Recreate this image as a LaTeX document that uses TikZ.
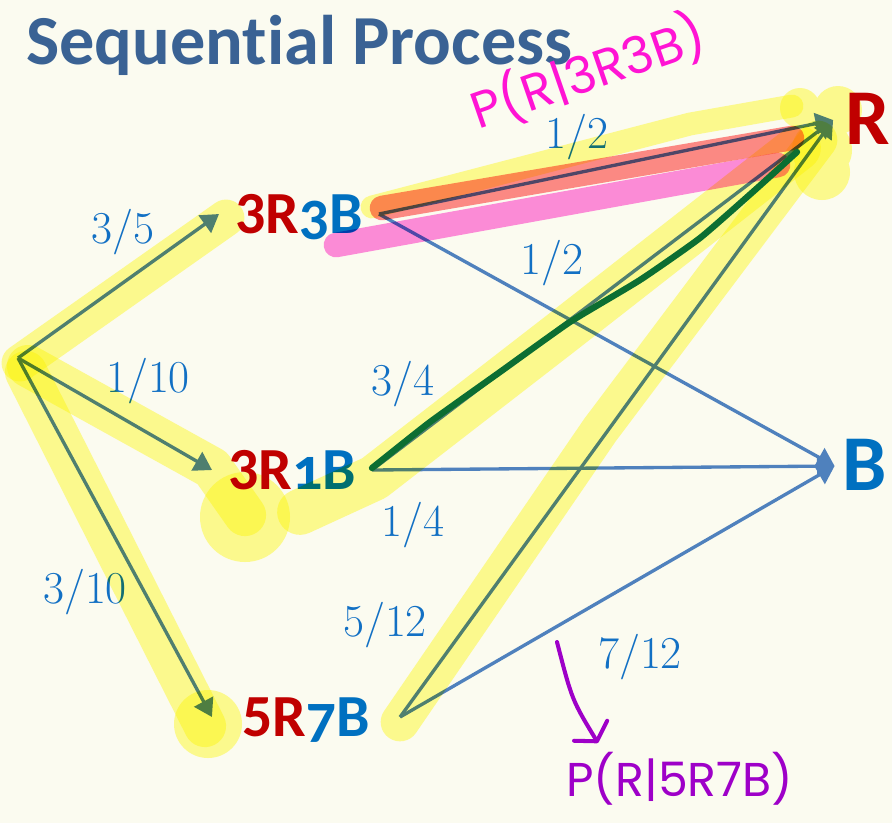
\documentclass[tikz,border=0pt]{standalone}
\usepackage{fontspec}
\usetikzlibrary{positioning,calc,arrows.meta}
\newfontfamily\headfont[Ligatures=NoCommon]{Carlito}
\newfontfamily\oldfont[Numbers=OldStyle]{Carlito}
\newfontfamily\handfont{Poppins}
\definecolor{PaperCream}{RGB}{251,251,240}
\definecolor{TitleBlue}{RGB}{58,98,148}
\definecolor{EdgeBlue}{RGB}{79,129,189}
\definecolor{LabBlue}{RGB}{18,112,196}
\definecolor{BallRed}{RGB}{192,0,0}
\definecolor{BallBlue}{RGB}{0,112,192}
\definecolor{HiYellow}{RGB}{255,253,150}
\definecolor{HiPink}{RGB}{255,142,228}
\definecolor{HiSalmon}{RGB}{255,140,140}
\definecolor{PenGreen}{RGB}{12,110,50}
\definecolor{PenMagenta}{RGB}{255,20,212}
\definecolor{PenPurple}{RGB}{158,0,200}
\tikzset{
  st/.style={font=\headfont\bfseries\fontsize{34}{36}\selectfont,inner xsep=9pt,inner ysep=0pt,
    text height=22pt,text depth=0pt},
  fin/.style={font=\headfont\bfseries\fontsize{45}{48}\selectfont,inner ysep=0pt,
    text height=28pt,text depth=0pt},
  edge/.style={draw=EdgeBlue,line width=1.9pt,-{Triangle[length=10pt,width=12pt]}},
  frac/.style={font=\fontsize{26}{28}\selectfont,text=LabBlue,inner sep=0pt},
  hl/.style={draw=HiYellow,line cap=round,line join=round,blend mode=multiply},
  blob/.style={fill=HiYellow,blend mode=multiply},
  pen/.style={line width=2.3pt,line cap=round,line join=round},
}
\newcommand{\rd}[1]{\textcolor{BallRed}{#1}}
\newcommand{\bl}[1]{\textcolor{BallBlue}{#1}}
\newcommand{\od}[1]{{\oldfont\bfseries#1}}

\begin{document}
\begin{tikzpicture}[x=0.02cm,y=-0.02cm]
    \fill[PaperCream] (0,0) rectangle (892,823);
    \useasboundingbox (0,0) rectangle (892,823);
    \node[anchor=base west,inner sep=0pt,text=TitleBlue,font=\headfont\bfseries\fontsize{40}{42}\selectfont] (title) at (26,64) {Sequential Process};
    % tree
    \coordinate (s) at (18,358);
    \node[st] (n33) at (299,214) {\rd{3R}\bl{\od{3}B}};
    \node[st] (n31) at (292,470) {\rd{3R}\bl{\od{1}B}};
    \node[st,inner xsep=17pt] (n57) at (306,717) {\rd{5R}\bl{\od{7}B}};
    \node[fin,text=BallRed,inner xsep=7pt] (r) at (868,120) {R};
    \node[fin,text=BallBlue,inner xsep=4.5pt] (b) at (865,466) {B};
    \foreach \n in {n33,n31,n57} {\draw[edge] (s)--(\n.west);}
    \foreach \n in {n33,n31,n57} {\draw[edge] (\n.east)--(r.west); \draw[edge] (\n.east)--(b.west);}
    % labels
    \node[frac] (l1) at (123,232) {3/5};
    \node[frac] (l2) at (148,381) {1/10};
    \node[frac] (l3) at (85,592) {3/10};
    \node[frac] (l4) at (577,137) {1/2};
    \node[frac] (l5) at (552,263) {1/2};
    \node[frac] (l6) at (403,384) {3/4};
    \node[frac] (l7) at (413,525) {1/4};
    \node[frac] (l8) at (385,625) {5/12};
    \node[frac] (l9) at (640,657) {7/12};
    % highlighter
    \draw[hl,line width=21pt] (20,363)--(226,218);
    \draw[hl,line width=24pt] (28,366)--(212,468)--(245,515);
    \fill[blob] (245,517) circle (45);
    \draw[hl,line width=24pt] (26,372)--(205,726);
    \fill[blob] (208,724) circle (34);
    \draw[hl,line width=26pt] (300,512)--(374,478)--(560,334)--(798,148);
    \draw[hl,line width=22pt] (400,722)--(600,430)--(818,140);
    \draw[hl,line width=13pt] (372,207)--(690,124)--(792,106);
    \fill[blob] (800,108) circle (20) (838,110) circle (24) (822,150) circle (30) (822,172) circle (28);
    \draw[hl,draw=HiSalmon,line width=14pt] (382,208)--(792,138);
    \draw[hl,draw=HiPink,line width=14pt] (336,245)--(778,165);
    \draw[pen,PenGreen,line width=3.6pt] plot[smooth,tension=0.3] coordinates {(372,468) (430,422) (500,372) (570,322) (640,280) (700,238) (755,190) (797,152)};
    % pen notes
    \node[font=\handfont\fontsize{29}{31}\selectfont,text=PenMagenta,rotate=19,inner sep=0pt] (h1) at (588,72) {P(R|3R3B)};
    \node[font=\handfont\fontsize{27}{30}\selectfont,text=PenPurple,inner sep=0pt,anchor=north west] (h2) at (566,752) {P(R|5R7B)};
    \coordinate (pa) at (557,642);
    \coordinate (pb) at (598,743);
    \draw[pen,PenPurple,-{Straight Barb[length=7pt,width=22pt,round]}] (pa) .. controls (572,700) .. (pb);
  \end{tikzpicture}
\end{document}
